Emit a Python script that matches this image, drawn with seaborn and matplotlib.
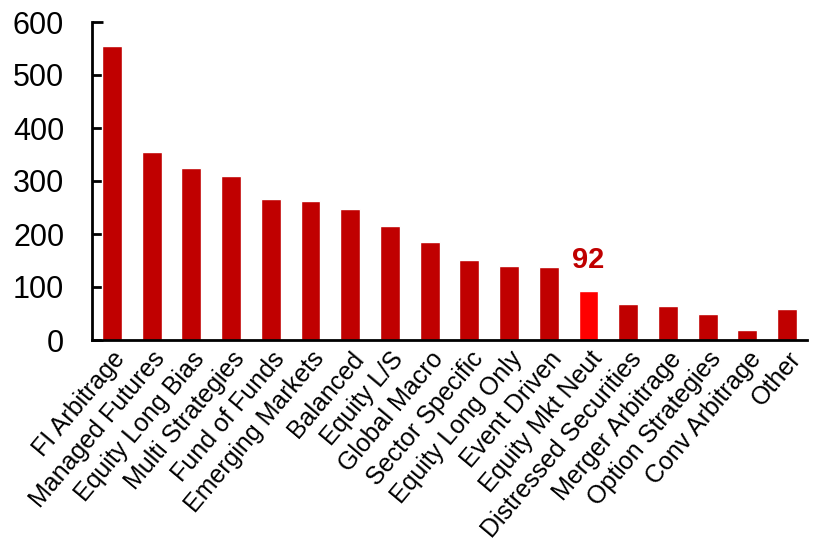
import matplotlib
matplotlib.use("Agg")
import matplotlib.pyplot as plt
import seaborn as sns
import pandas as pd

categories = ["FI Arbitrage", "Managed Futures", "Equity Long Bias", "Multi Strategies",
              "Fund of Funds", "Emerging Markets", "Balanced", "Equity L/S", "Global Macro",
              "Sector Specific", "Equity Long Only", "Event Driven", "Equity Mkt Neut",
              "Distressed Securities", "Merger Arbitrage", "Option Strategies",
              "Conv Arbitrage", "Other"]
values = [555, 354, 324, 309, 266, 262, 247, 215, 185, 151, 139, 137, 92, 68, 64, 49, 18, 58]
highlight = "Equity Mkt Neut"
highlight_label = "92"
yticks = [0, 100, 200, 300, 400, 500, 600]

sns.set_style("white")
plt.rcParams['font.family'] = ['Liberation Sans', 'DejaVu Sans']
plt.rcParams['text.color'] = 'black'
plt.rcParams['xtick.color'] = 'black'
plt.rcParams['ytick.color'] = 'black'

df = pd.DataFrame({"category": categories, "value": values})
palette = {c: ("#FF0000" if c == highlight else "#C00000") for c in categories}

fig = plt.figure(figsize=(8.13, 5.46), dpi=100)
ax = fig.add_axes([92/813, 1-340/546, (807-92)/813, (340-22)/546])
sns.barplot(data=df, x="category", y="value", hue="category", palette=palette,
            width=0.5, legend=False, ax=ax, saturation=1)

ax.set_xlim(-0.5, len(categories) - 0.5)
ax.set_ylim(0, 600)
ax.set_yticks(yticks)
ax.set_xlabel("")
ax.set_ylabel("")
for s in ["top", "right"]:
    ax.spines[s].set_visible(False)
for s in ["left", "bottom"]:
    ax.spines[s].set_color("black")
    ax.spines[s].set_linewidth(2)
ax.tick_params(axis="y", direction="in", length=8, width=2, labelsize=22, pad=20, left=True,
               labelcolor="black")
ax.tick_params(axis="x", length=0, labelsize=18, pad=5, labelcolor="black")
plt.setp(ax.get_xticklabels(), rotation=50, ha="right", va="top", rotation_mode="anchor")

idx = categories.index(highlight)
ax.text(idx, values[idx] + 32, highlight_label, ha="center", va="bottom",
        color="#C00000", fontsize=21, fontweight="bold")

fig.savefig("out.png", dpi=100)
